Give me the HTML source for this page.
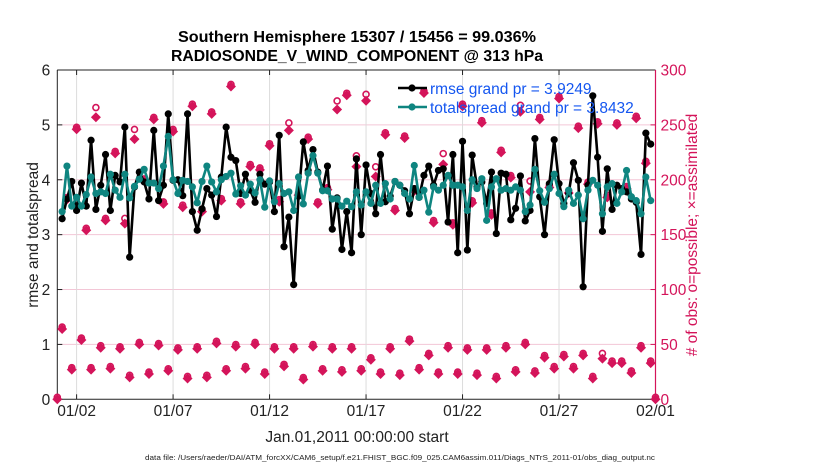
<!DOCTYPE html>
<html><head><meta charset="utf-8"><style>
body{margin:0;background:#fff;}
svg{display:block;font-family:"Liberation Sans",Arial,sans-serif;}
</style></head><body>
<svg id="chart" width="830" height="470" viewBox="0 0 830 470" xmlns="http://www.w3.org/2000/svg">
<rect x="0" y="0" width="830" height="470" fill="#fff"/>
<text x="357" y="42" text-anchor="middle" font-size="15.5" font-weight="bold" textLength="358" lengthAdjust="spacingAndGlyphs">Southern Hemisphere 15307 / 15456 = 99.036%</text>
<text x="357" y="61" text-anchor="middle" font-size="15.5" font-weight="bold" textLength="372" lengthAdjust="spacingAndGlyphs">RADIOSONDE_V_WIND_COMPONENT @ 313 hPa</text>
<g id="grid"></g>
<g id="axes"></g>
<g id="obs"></g>
<g id="lines"></g>
<g id="legend">
  <line x1="398" y1="88" x2="427" y2="88" stroke="#000" stroke-width="2.5"/>
  <circle cx="412" cy="88" r="3.6" fill="#000"/>
  <text x="430" y="94" font-size="15.5" fill="#1456f0">rmse grand pr = 3.9249</text>
  <line x1="398" y1="107" x2="427" y2="107" stroke="#0f8580" stroke-width="2.5"/>
  <circle cx="412" cy="107" r="3.6" fill="#0f8580"/>
  <text x="430" y="113" font-size="15.5" fill="#1456f0">totalspread grand pr = 3.8432</text>
</g>
<text x="357" y="442" text-anchor="middle" font-size="15.5" fill="#222">Jan.01,2011 00:00:00 start</text>
<text transform="translate(38,235) rotate(-90)" text-anchor="middle" font-size="15.5" fill="#222">rmse and totalspread</text>
<text transform="translate(697,235) rotate(-90)" text-anchor="middle" font-size="15.5" fill="#d4145a"># of obs: o=possible; ×=assimilated</text>
<text x="400" y="460" text-anchor="middle" font-size="7.5" fill="#222" textLength="510" lengthAdjust="spacingAndGlyphs">data file: /Users/raeder/DAI/ATM_forcXX/CAM6_setup/f.e21.FHIST_BGC.f09_025.CAM6assim.011/Diags_NTrS_2011-01/obs_diag_output.nc</text>
</svg>
<script>
const xTickLabels = ["01/02","01/07","01/12","01/17","01/22","01/27","02/01"];
const xTickDays = [1,6,11,16,21,26,31];
const yTickLabels = ["0","1","2","3","4","5","6"];
const yRightTickLabels = ["0","50","100","150","200","250","300"];
const rmse = [null,3.29,3.65,3.97,3.44,3.94,3.52,4.72,3.46,3.90,4.46,3.44,4.08,3.96,4.96,2.59,3.87,4.14,3.96,3.65,4.90,3.62,3.90,5.20,3.99,4.00,3.71,5.20,3.42,3.08,3.47,3.84,3.72,3.33,4.05,4.96,4.41,4.35,3.75,4.10,3.81,3.59,4.10,3.92,3.96,3.42,4.81,2.78,3.32,2.09,3.70,4.69,4.17,4.55,4.14,3.81,4.25,3.10,3.67,2.73,3.42,2.67,4.38,3.00,4.27,3.75,3.38,4.46,3.60,3.70,3.97,3.90,3.80,3.38,3.84,3.68,4.08,4.25,3.90,4.17,4.20,3.23,4.46,2.67,4.70,2.72,4.45,3.87,3.96,3.57,4.14,3.02,4.12,4.10,3.27,3.48,4.07,3.25,3.44,4.75,3.69,3.00,3.93,4.73,3.93,3.57,3.75,4.31,3.99,2.05,3.90,5.53,4.41,3.06,4.20,3.46,3.90,3.84,3.78,3.65,3.59,2.64,4.85,4.65,null];
const spread = [null,3.42,4.25,3.52,3.68,3.52,3.73,4.05,3.75,3.78,3.75,4.10,3.81,3.68,4.10,3.67,3.88,4.01,4.19,3.94,3.94,3.84,4.25,4.79,4.00,3.75,3.99,3.97,3.87,3.58,3.97,4.25,3.96,3.78,4.00,4.06,4.12,3.74,3.89,3.72,3.92,3.76,4.00,3.50,3.98,3.60,3.93,3.75,3.78,3.44,4.05,3.56,4.12,4.44,4.12,3.80,3.80,3.65,3.65,3.52,3.61,3.51,3.78,3.54,3.78,3.57,3.90,3.57,3.93,3.65,3.97,3.90,3.75,3.65,4.26,3.68,3.81,3.41,3.87,3.81,3.90,4.08,3.90,3.90,3.87,3.44,4.00,3.84,4.02,3.26,3.87,4.02,3.81,3.84,3.81,3.87,3.81,3.42,3.54,4.19,3.80,3.59,3.84,4.10,3.75,3.51,3.81,3.57,3.72,3.29,3.81,3.99,3.90,3.38,3.87,3.93,3.57,3.78,4.17,3.69,3.62,3.38,4.05,3.62,null];
const nAssim = [0,64,182,27,246,54,154,27,257,47,163,28,224,46,160,20,237,50,199,23,255,49,178,26,244,45,175,19,267,46,171,20,260,51,181,26,285,48,178,28,212,50,209,23,231,46,180,30,245,46,186,18,237,48,178,26,191,46,264,25,277,46,212,26,272,36,203,23,241,46,172,22,238,53,190,27,279,40,161,23,214,47,159,23,267,45,179,22,252,45,168,19,225,47,202,25,262,50,189,24,255,38,193,28,274,39,188,28,247,40,196,19,251,37,184,33,250,33,192,24,256,47,215,33,0];
const nPoss = [0,64,182,27,246,54,154,27,264,47,163,28,224,46,163,20,244,50,199,23,255,49,178,26,244,45,175,19,267,46,171,20,260,51,181,26,285,48,178,28,212,50,209,23,231,46,180,30,250,46,186,18,237,48,178,26,191,46,270,25,277,46,220,26,276,36,210,23,241,46,172,22,238,53,190,27,279,40,161,23,222,47,159,23,267,45,179,22,252,45,168,19,225,47,202,25,266,50,197,24,255,38,193,28,274,39,188,28,247,40,196,19,251,40,184,33,250,33,192,24,256,47,215,33,0];

const NS='http://www.w3.org/2000/svg';
const L=57.3,R=655.5,T=70,B=399.3;
const MAG='#d4145a', TEAL='#0f8580';
function xScale(i){return L+i/124*(R-L);}
function xDay(d){return L+d/31*(R-L);}
function yL(v){return B-v/6*(B-T);}
function yR(c){return B-c/300*(B-T);}
function mk(tag,attrs,parent){const e=document.createElementNS(NS,tag);for(const k in attrs)e.setAttribute(k,attrs[k]);parent.appendChild(e);return e;}
const grid=document.getElementById('grid'),axes=document.getElementById('axes'),obs=document.getElementById('obs'),lines=document.getElementById('lines');

yTickLabels.forEach((lab,k)=>{
  const y=yL(k);
  if(k>0&&k<6){const g=mk('line',{x1:L,x2:R,y1:y,y2:y,stroke:'#f3c6d6','stroke-width':1},grid);
  
  }
  const t=mk('text',{x:L-7,y:y+5.5,'text-anchor':'end','font-size':15.5,fill:'#222'},axes);t.textContent=lab;
  
  
  mk('line',{x1:L,x2:L+5,y1:y,y2:y,stroke:'#222'},axes);
});
yRightTickLabels.forEach((lab,k)=>{
  const y=yR(+lab);
  const t=mk('text',{x:R+5,y:y+5.5,'font-size':15.5,fill:MAG},axes);t.textContent=lab;
  
  
  mk('line',{x1:R-5,x2:R,y1:y,y2:y,stroke:MAG},axes);
});
xTickLabels.forEach((lab,k)=>{
  const x=xDay(xTickDays[k]);
  if(k<6){const g=mk('line',{x1:x,x2:x,y1:T,y2:B,stroke:'#dcdcdc','stroke-width':1},grid);
  
  }
  mk('line',{x1:x,x2:x,y1:T,y2:T+5,stroke:'#222'},axes);
  mk('line',{x1:x,x2:x,y1:B,y2:B-5,stroke:'#222'},axes);
  const t=mk('text',{x:x,y:416,'text-anchor':'middle','font-size':15.5,fill:'#222'},axes);t.textContent=lab;
  
  
});
mk('line',{x1:L,x2:R,y1:T,y2:T,stroke:'#222','stroke-width':1},axes);
mk('line',{x1:L,x2:R,y1:B,y2:B,stroke:'#222','stroke-width':1},axes);
mk('line',{x1:L,x2:L,y1:T,y2:B,stroke:'#222','stroke-width':1},axes);
mk('line',{x1:R,x2:R,y1:T,y2:B,stroke:MAG,'stroke-width':1.2},axes);

nAssim.forEach((c,i)=>{
  const x=xScale(i);
  const p=mk('circle',{cx:x,cy:yR(nPoss[i])-2,r:3,fill:'none',stroke:MAG,'stroke-width':1.6},obs);
  
  
  const y=yR(c);
  const d=mk('path',{d:`M${x} ${y-5}L${x+5} ${y}L${x} ${y+5}L${x-5} ${y}Z`,fill:MAG},obs);
  
  
});

function drawSeries(arr,color,name){
  let pts=[];arr.forEach((v,i)=>{if(v!==null)pts.push([xScale(i),yL(v)]);});
  const pl=mk('polyline',{points:pts.map(p=>p.join(',')).join(' '),fill:'none',stroke:color,'stroke-width':2.6,'stroke-linejoin':'round'},lines);
  
  
  pts.forEach(p=>{const c=mk('circle',{cx:p[0],cy:p[1],r:3.6,fill:color},lines);
  
  });
}
drawSeries(rmse,'#000','rmse');
drawSeries(spread,TEAL,'totalspread');
lines.parentNode.appendChild(document.getElementById('legend'));
</script>
</body></html>
